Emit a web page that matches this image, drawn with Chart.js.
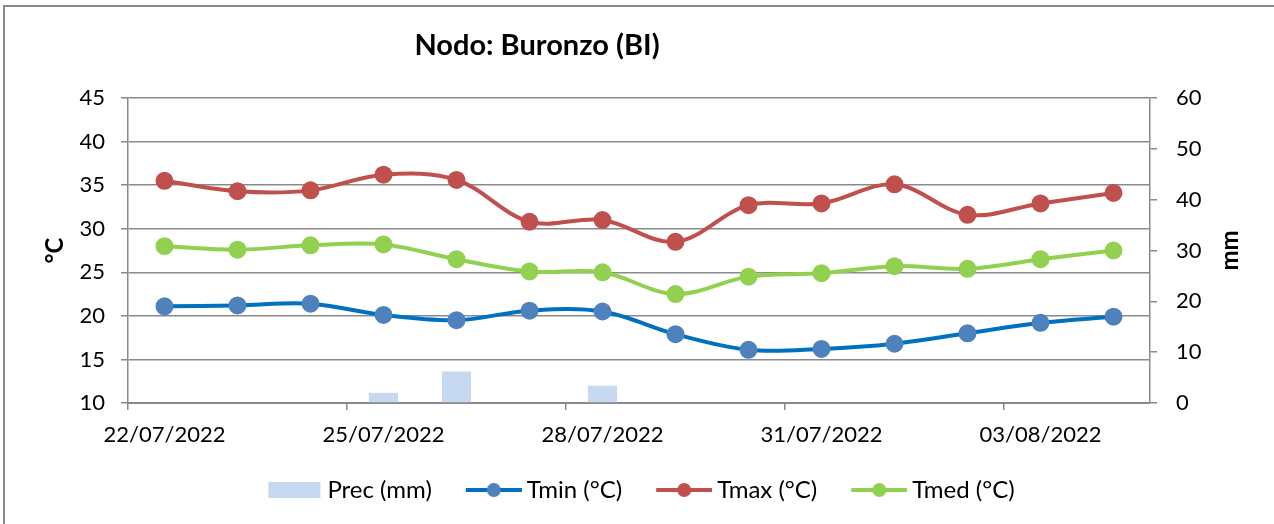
<!DOCTYPE html>
<html>
<head>
<meta charset="utf-8">
<script src="https://cdn.jsdelivr.net/npm/chart.js@4/dist/chart.umd.min.js"></script>
<style>
  html, body { margin: 0; padding: 0; background: #fff; }
  #wrap { position: relative; width: 1274px; height: 524px; }
</style>
</head>
<body>
<div id="wrap"><canvas id="myChart" width="1274" height="524"></canvas></div>
<script>
// data
var days = ['22/07/2022', '23/07/2022', '24/07/2022', '25/07/2022', '26/07/2022', '27/07/2022', '28/07/2022',
            '29/07/2022', '30/07/2022', '31/07/2022', '01/08/2022', '02/08/2022', '03/08/2022', '04/08/2022'];
var prec = [0, 0, 0, 2.0, 6.2, 0, 3.4, 0, 0, 0, 0, 0, 0, 0];
var tmin = [21.1, 21.2, 21.4, 20.1, 19.5, 20.6, 20.5, 17.9, 16.1, 16.2, 16.8, 18.0, 19.2, 19.9];
var tmax = [35.5, 34.3, 34.4, 36.2, 35.6, 30.8, 31.0, 28.5, 32.7, 32.9, 35.1, 31.6, 32.9, 34.1];
var tmed = [28.0, 27.6, 28.1, 28.2, 26.5, 25.1, 25.0, 22.5, 24.5, 24.9, 25.7, 25.4, 26.5, 27.5];

var FONT = 'Lato';
var GRID = '#8a8a8a';

// little legend pictures, like the excel ones.
// the symbol sits in the right part of a 70px image so it hugs its text
function legendLine(lineCol, dotCol) {
    var c = document.createElement('canvas');
    c.width = 70; c.height = 18;
    var g = c.getContext('2d');
    g.strokeStyle = lineCol;
    g.lineWidth = 4;
    g.beginPath(); g.moveTo(14, 9); g.lineTo(70, 9); g.stroke();
    g.fillStyle = dotCol;
    g.beginPath(); g.arc(42, 9, 7, 0, Math.PI * 2); g.fill();
    return c;
}
function legendBox(col) {
    var c = document.createElement('canvas');
    c.width = 70; c.height = 18;
    var g = c.getContext('2d');
    g.fillStyle = col;
    g.fillRect(16, 1, 52, 16);
    return c;
}

var extras = {
    id: 'extras',
    beforeDraw: function (chart) {
        var c = chart.ctx;
        c.save();
        c.fillStyle = '#fff';
        c.fillRect(0, 0, chart.width, chart.height);
        c.fillStyle = '#8a8a8a';
        c.fillRect(3, 5, chart.width - 3, 2);
        c.fillRect(3, 5, 2, chart.height - 5);
        c.restore();
    },
    afterDraw: function (chart) {
        var c = chart.ctx;
        var a = chart.chartArea;
        c.save();
        c.fillStyle = '#000';
        c.textAlign = 'center';
        c.textBaseline = 'middle';
        c.font = 'bold 29px ' + FONT;
        c.fillText('Nodo: Buronzo (BI)', 537, 46);
        c.font = 'bold 24px ' + FONT;
        c.translate(55, (a.top + a.bottom) / 2);
        c.rotate(-Math.PI / 2);
        c.fillText('°C', 0, 0);
        c.restore();
        c.save();
        c.fillStyle = '#000';
        c.textAlign = 'center';
        c.textBaseline = 'middle';
        c.font = 'bold 24px ' + FONT;
        c.translate(1230, (a.top + a.bottom) / 2);
        c.rotate(-Math.PI / 2);
        c.fillText('mm', 0, 0);
        c.restore();
    }
};

var ctx = document.getElementById('myChart').getContext('2d');
var chart = new Chart(ctx, {
    data: {
        labels: days,
        datasets: [{
            type: 'bar',
            label: 'Prec (mm)',
            data: prec,
            yAxisID: 'y1',
            backgroundColor: '#c6d9f1',
            barPercentage: 0.4,
            categoryPercentage: 1
        }, {
            type: 'line',
            label: 'Tmin (°C)',
            data: tmin,
            yAxisID: 'y',
            borderColor: '#0070c0',
            backgroundColor: '#4f81bd',
            pointBackgroundColor: '#4f81bd',
            pointBorderColor: '#4f81bd',
            borderWidth: 4,
            pointRadius: 7,
            tension: 0.35
        }, {
            type: 'line',
            label: 'Tmax (°C)',
            data: tmax,
            yAxisID: 'y',
            borderColor: '#c0504d',
            backgroundColor: '#c0504d',
            pointBackgroundColor: '#c0504d',
            pointBorderColor: '#c0504d',
            borderWidth: 4,
            pointRadius: 7,
            tension: 0.35
        }, {
            type: 'line',
            label: 'Tmed (°C)',
            data: tmed,
            yAxisID: 'y',
            borderColor: '#92d050',
            backgroundColor: '#92d050',
            pointBackgroundColor: '#92d050',
            pointBorderColor: '#92d050',
            borderWidth: 4,
            pointRadius: 7,
            tension: 0.35
        }]
    },
    options: {
        responsive: false,
        animation: false,
        layout: { padding: { top: 98, left: 0, right: 0, bottom: 12 } },
        scales: {
            x: {
                offset: true,
                grid: {
                    offset: true,
                    drawOnChartArea: false,
                    tickLength: 7,
                    lineWidth: 1.5,
                    color: function (c) { return c.index % 3 === 0 ? GRID : 'rgba(0,0,0,0)'; }
                },
                border: { color: GRID, width: 2 },
                ticks: {
                    autoSkip: false,
                    maxRotation: 0,
                    padding: 12,
                    color: '#000',
                    font: { family: FONT, size: 22 },
                    callback: function (v, i) { return i % 3 === 0 ? days[i] : ''; }
                },
                afterFit: function (s) { s.height = 48; }
            },
            y: {
                position: 'left',
                min: 10, max: 45,
                ticks: { stepSize: 5, padding: 16, color: '#000', font: { family: FONT, size: 22 } },
                grid: { color: GRID, lineWidth: 1.5, tickLength: 7 },
                border: { color: GRID, width: 1.5 },
                afterFit: function (s) { s.width = 128; }
            },
            y1: {
                position: 'right',
                min: 0, max: 60,
                ticks: { stepSize: 10, padding: 19, color: '#000', font: { family: FONT, size: 22 } },
                grid: { drawOnChartArea: false, color: GRID, lineWidth: 1.5, tickLength: 7 },
                border: { color: GRID, width: 1.5 },
                afterFit: function (s) { s.width = 124; }
            }
        },
        plugins: {
            legend: {
                display: true,
                position: 'bottom',
                labels: {
                    usePointStyle: true,
                    pointStyleWidth: 56,
                    padding: 27,
                    color: '#000',
                    font: { family: FONT, size: 24 },
                    generateLabels: function (ch) {
                        var imgs = [legendBox('#c6d9f1'), legendLine('#0070c0', '#4f81bd'),
                                    legendLine('#c0504d', '#c0504d'), legendLine('#92d050', '#92d050')];
                        return ch.data.datasets.map(function (d, i) {
                            return { text: d.label, pointStyle: imgs[i], datasetIndex: i,
                                     fillStyle: 'transparent', strokeStyle: 'transparent', lineWidth: 0, fontColor: '#000' };
                        });
                    }
                }
            },
            tooltip: { enabled: false }
        }
    },
    plugins: [extras]
});
</script>
</body>
</html>
